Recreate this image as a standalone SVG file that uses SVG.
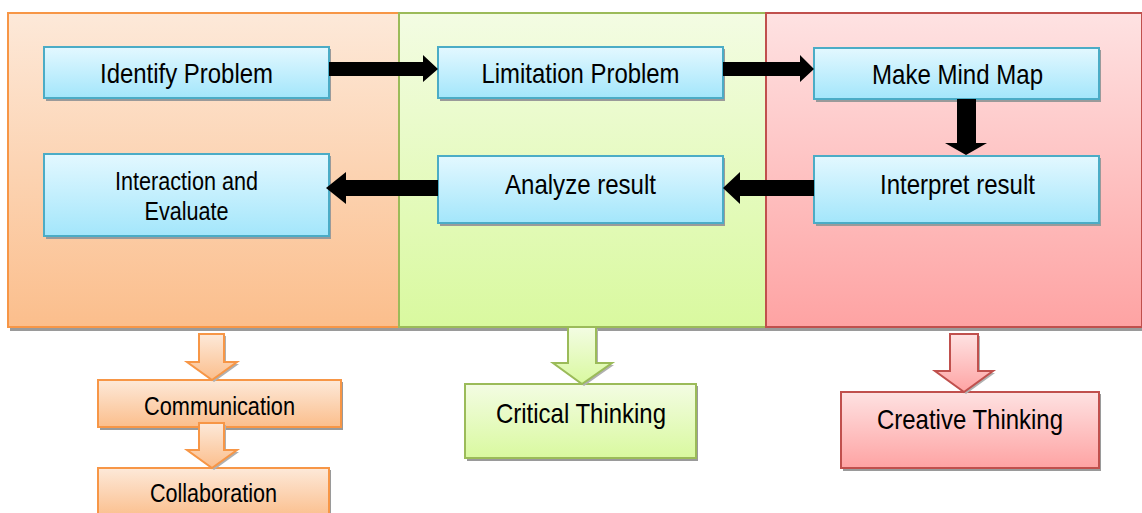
<svg xmlns="http://www.w3.org/2000/svg" width="1142" height="513" viewBox="0 0 1142 513">
<defs>
<linearGradient id="gO" x1="0" y1="0" x2="0" y2="1"><stop offset="0" stop-color="#fde9d9"/><stop offset="1" stop-color="#fbbe8c"/></linearGradient>
<linearGradient id="gG" x1="0" y1="0" x2="0" y2="1"><stop offset="0" stop-color="#f3fce3"/><stop offset="1" stop-color="#d9f99f"/></linearGradient>
<linearGradient id="gR" x1="0" y1="0" x2="0" y2="1"><stop offset="0" stop-color="#fee2e2"/><stop offset="1" stop-color="#fea3a3"/></linearGradient>
<linearGradient id="gB" x1="0" y1="0" x2="0" y2="1"><stop offset="0" stop-color="#e3f8ff"/><stop offset="1" stop-color="#a3e6fb"/></linearGradient>
<style>
.t{font-family:"Liberation Sans",Arial,sans-serif;fill:#000;text-anchor:middle}
.big{font-size:28px}
.sm{font-size:25px}
.sh{fill:#9a9a9a}
.sha{fill:#b0b0b0}
.bx{fill:url(#gB);stroke:#4bacc6;stroke-width:2}
.po{fill:url(#gO);stroke:#f79646;stroke-width:2}
.pg{fill:url(#gG);stroke:#9bbb59;stroke-width:2}
.pr{fill:url(#gR);stroke:#c0504d;stroke-width:2}
.bk{fill:#000}
</style>
</defs>

<g id="panels">
<rect class="sh" x="10" y="327" width="1132" height="4"/>
<rect id="panel-orange" class="po" x="8" y="13" width="391" height="314"/>
<rect id="panel-green" class="pg" x="399" y="13" width="367" height="314"/>
<rect id="panel-red" class="pr" x="766" y="13" width="376" height="314"/>
</g>

<g id="node-identify">
<rect class="sh" x="46" y="49" width="285" height="52"/>
<rect class="bx" x="44" y="47" width="285" height="51"/>
<text class="t big" x="186.5" y="83" textLength="173" lengthAdjust="spacingAndGlyphs">Identify Problem</text>
</g>
<g id="node-limitation">
<rect class="sh" x="440" y="49" width="285" height="52"/>
<rect class="bx" x="438" y="47" width="285" height="51"/>
<text class="t big" x="580.5" y="83" textLength="198" lengthAdjust="spacingAndGlyphs">Limitation Problem</text>
</g>
<g id="node-mindmap">
<rect class="sh" x="816" y="50" width="285" height="52"/>
<rect class="bx" x="814" y="48" width="285" height="51"/>
<text class="t big" x="957.5" y="84" textLength="171" lengthAdjust="spacingAndGlyphs">Make Mind Map</text>
</g>
<g id="node-interaction">
<rect class="sh" x="46" y="156" width="285" height="83"/>
<rect class="bx" x="44" y="154" width="285" height="82"/>
<text class="t sm" x="186.5" y="190" textLength="143" lengthAdjust="spacingAndGlyphs">Interaction and</text>
<text class="t sm" x="186.5" y="220" textLength="84" lengthAdjust="spacingAndGlyphs">Evaluate</text>
</g>
<g id="node-analyze">
<rect class="sh" x="440" y="158" width="285" height="68"/>
<rect class="bx" x="438" y="156" width="285" height="67"/>
<text class="t big" x="580.5" y="194" textLength="151" lengthAdjust="spacingAndGlyphs">Analyze result</text>
</g>
<g id="node-interpret">
<rect class="sh" x="816" y="158" width="285" height="68"/>
<rect class="bx" x="814" y="156" width="285" height="67"/>
<text class="t big" x="957.5" y="194" textLength="155" lengthAdjust="spacingAndGlyphs">Interpret result</text>
</g>

<g id="node-communication">
<rect class="sh" x="100" y="382" width="243" height="48"/>
<rect class="po" x="98" y="380" width="243" height="47"/>
<text class="t sm" x="219.5" y="415" textLength="151" lengthAdjust="spacingAndGlyphs">Communication</text>
</g>
<g id="node-collaboration">
<rect class="sh" x="100" y="470" width="231" height="50"/>
<rect class="po" x="98" y="468" width="231" height="50"/>
<text class="t sm" x="213.5" y="502" textLength="127" lengthAdjust="spacingAndGlyphs">Collaboration</text>
</g>
<g id="node-critical">
<rect class="sh" x="467" y="386" width="231" height="75"/>
<rect class="pg" x="465" y="384" width="231" height="74"/>
<text class="t big" x="581" y="423" textLength="170" lengthAdjust="spacingAndGlyphs">Critical Thinking</text>
</g>
<g id="node-creative">
<rect class="sh" x="843" y="394" width="258" height="77"/>
<rect class="pr" x="841" y="392" width="258" height="76"/>
<text class="t big" x="970" y="429" textLength="186" lengthAdjust="spacingAndGlyphs">Creative Thinking</text>
</g>

<g id="connectors">
<polygon class="bk" points="329,62 423,62 423,55 438,69 423,82 423,76 329,76"/>
<polygon class="bk" points="723,62 800,62 800,55 814,69 800,82 800,76 723,76"/>
<polygon class="bk" points="957,99 976,99 976,143 987,143 966,155 945,143 957,143"/>
<polygon class="bk" points="814,180 740,180 740,172 723,188 740,204 740,196 814,196"/>
<polygon class="bk" points="438,180 346,180 346,172 326,188 346,204 346,196 438,196"/>

<polygon class="sha" points="201,336 226,336 226,364 239,364 214,382 189,364 201,364"/>
<polygon class="po" points="199,334 224,334 224,362 237,362 212,380 187,362 199,362"/>
<polygon class="sha" points="201,425 226,425 226,452 239,452 214,470 189,452 201,452"/>
<polygon class="po" points="199,423 224,423 224,450 237,450 212,468 187,450 199,450"/>
<polygon class="sha" points="570,329 598,329 598,365 614,365 584,386 555,365 570,365"/>
<polygon class="pg" points="568,327 596,327 596,363 612,363 582,384 553,363 568,363"/>
<polygon class="sha" points="952,336 980,336 980,373 995,373 966,394 937,373 952,373"/>
<polygon class="pr" points="950,334 978,334 978,371 993,371 964,392 935,371 950,371"/>
</g>
</svg>
